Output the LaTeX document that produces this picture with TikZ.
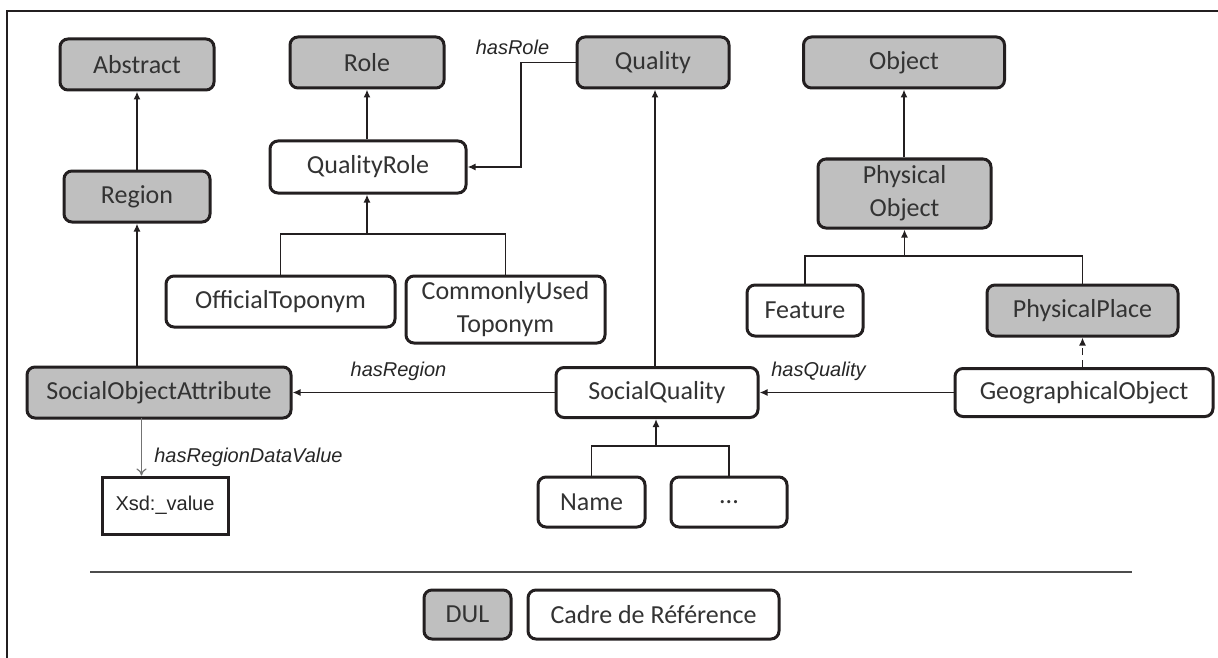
\documentclass[tikz,border=0pt]{standalone}
\usepackage{fontspec}
\setmainfont{Carlito}
\newfontfamily\arialf{Liberation Sans}
\usetikzlibrary{arrows.meta,calc}
\definecolor{bord}{HTML}{231F20}
\definecolor{dulgray}{HTML}{BFBFBF}
\definecolor{txt}{HTML}{333333}
\begin{document}
\begin{tikzpicture}[x=1pt,y=-1pt,
  box/.style={draw=bord,line width=3pt,rounded corners=8pt,inner sep=0pt,
    text=txt,align=center,font=\fontsize{26}{33}\selectfont},
  dulbox/.style={box,fill=dulgray},
  refbox/.style={box,fill=white},
  valbox/.style={draw=bord,line width=3pt,inner sep=0pt,fill=white,
    font=\arialf\fontsize{20}{24}\selectfont,text=black!85},
  conn/.style={draw=bord,line width=1.6pt},
  arr/.style={conn,-{Latex[length=8pt,width=7pt]}},
  lbl/.style={font=\arialf\itshape\fontsize{20}{24}\selectfont,inner sep=0pt,text=black!85}
]
\useasboundingbox (0,0) rectangle (1218,658);
% frame
\draw[line width=2pt,bord] (7,658) -- (7,11) -- (1218,11);

% nodes
\node[dulbox,minimum width=154pt,minimum height=51pt] (abstract) at (137,64.5) {Abstract};
\node[dulbox,minimum width=154pt,minimum height=51pt] (role) at (367,62.5) {Role};
\node[dulbox,minimum width=152pt,minimum height=51pt] (quality) at (653,62.5) {Quality};
\node[dulbox,minimum width=201pt,minimum height=51pt] (object) at (904,62.5) {Object};
\node[refbox,minimum width=196pt,minimum height=52pt] (qualityrole) at (368,167) {QualityRole};
\node[dulbox,minimum width=146pt,minimum height=51pt] (region) at (137,196.5) {Region};
\node[dulbox,minimum width=173pt,minimum height=69pt] (physobj) at (904.5,193.5) {Physical\\Object};
\node[refbox,minimum width=229pt,minimum height=51pt] (official) at (280.5,301.5) {OfficialToponym};
\node[refbox,minimum width=199pt,minimum height=67pt] (commonly) at (505.5,309.5) {CommonlyUsed\\Toponym};
\node[refbox,minimum width=116pt,minimum height=51pt] (feature) at (805,310.5) {Feature};
\node[dulbox,minimum width=191pt,minimum height=51pt] (physplace) at (1082.5,310.5) {PhysicalPlace};
\node[dulbox,minimum width=264pt,minimum height=51pt] (soa) at (159,392.5) {SocialObjectAttribute};
\node[refbox,minimum width=202pt,minimum height=50pt] (socialq) at (657,392.5) {SocialQuality};
\node[refbox,minimum width=258pt,minimum height=48pt] (geo) at (1084,392.5) {GeographicalObject};
\node[valbox,minimum width=126pt,minimum height=57pt] (xsd) at (165,505.5) {Xsd:\_value};
\node[refbox,minimum width=107pt,minimum height=50pt] (name) at (591.5,502) {Name};
\node[refbox,minimum width=116pt,minimum height=50pt] (dots) at (729,502) {...};
\node[dulbox,minimum width=87pt,minimum height=49pt] (dul) at (467.5,614.5) {DUL};
\node[refbox,minimum width=251pt,minimum height=49pt] (cadre) at (653.5,614.5) {Cadre de Référence};

% separator
\coordinate (sepL) at (90,572);
\coordinate (sepR) at (1132,572);
\draw[line width=1.5pt,black!70] (sepL) -- (sepR);

% subclass links
\draw[arr] (region.north) -- (abstract.south);
\draw[arr] (region.south |- soa.north) -- (region.south);
\draw[arr] (qualityrole.north -| role.south) -- (role.south);
\coordinate (qrb) at (367,234);
\draw[conn] (official.north) -- (official.north |- qrb) -- (commonly.north |- qrb) -- (commonly.north);
\draw[arr] (qrb) -- (qrb |- qualityrole.south);
\draw[arr] (physobj.north -| object.south) -- (object.south);
\coordinate (pob) at (904.5,256);
\draw[conn] (feature.north) -- (feature.north |- pob) -- (physplace.north |- pob) -- (physplace.north);
\draw[arr] (pob) -- (physobj.south);
\draw[arr] (socialq.north -| 655,0) -- (quality.south -| 655,0);
\coordinate (sqb) at (656,446);
\draw[conn] (name.north) -- (name.north |- sqb) -- (dots.north |- sqb) -- (dots.north);
\draw[arr] (sqb) -- (sqb |- socialq.south);
\draw[arr,dashed,dash pattern=on 7pt off 5pt] (physplace.south |- geo.north) -- (physplace.south);

% properties
\coordinate (hr) at (521,62.5);
\draw[arr] (quality.west) -- (hr) -- (hr |- qualityrole.east) -- (qualityrole.east);
\node[lbl] (hasrole) at (512.5,47) {hasRole};
\draw[arr] (socialq.west) -- (soa.east);
\node[lbl] (hasregion) at (398.5,371) {hasRegion};
\draw[arr] (geo.west) -- (socialq.east);
\node[lbl] (hasquality) at (818.5,371) {hasQuality};
\coordinate (rdv) at (141.5,418);
\draw[draw=black!55,line width=1.2pt,-{To[length=7pt,width=10pt]}] (rdv) -- (rdv |- xsd.north);
\node[lbl] (hasrdv) at (248.5,457) {hasRegionDataValue};
\end{tikzpicture}
\end{document}
